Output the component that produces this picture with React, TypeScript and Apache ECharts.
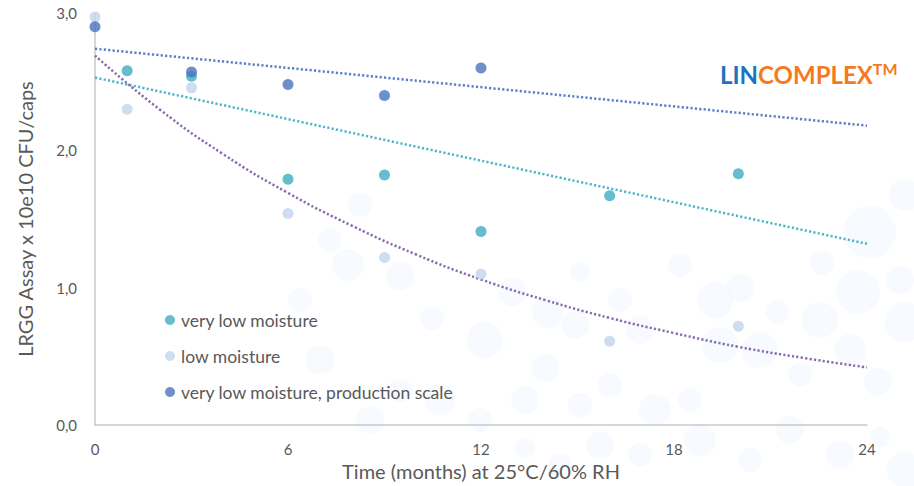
import React, { useEffect, useRef } from "react";
import * as echarts from "echarts";

const xTicks = [0, 6, 12, 18, 24];
const veryLowX = [1, 3, 6, 9, 12, 16, 20];
const veryLowY = [2.58, 2.54, 1.79, 1.82, 1.41, 1.67, 1.83];
const lowX = [0, 1, 3, 6, 9, 12, 16, 20];
const lowY = [2.97, 2.3, 2.455, 1.54, 1.22, 1.1, 0.61, 0.72];
const prodX = [0, 3, 6, 9, 12];
const prodY = [2.9, 2.57, 2.48, 2.4, 2.6];
const trendProdX = [0, 24];
const trendProdY = [2.74, 2.18];
const trendVeryLowX = [0, 24];
const trendVeryLowY = [2.53, 1.32];
const trendLowX = [0, 2, 4, 6, 8, 10, 12, 14, 16, 18, 20, 22, 24];
const trendLowY = [2.69, 2.3, 1.97, 1.69, 1.45, 1.24, 1.06, 0.91, 0.78, 0.67, 0.57, 0.49, 0.42];

const names = ["very low moisture", "low moisture", "very low moisture, production scale"];

const bubbles: [number, number, number][] = [
  [905, 195, 16], [870, 232, 26], [900, 280, 14], [822, 263, 12], [858, 292, 22],
  [905, 322, 20], [820, 320, 18], [777, 312, 12], [740, 288, 14], [715, 300, 18],
  [640, 330, 14], [575, 325, 14], [548, 312, 16], [512, 292, 14], [485, 340, 18],
  [432, 318, 12], [400, 276, 14], [348, 265, 16], [360, 205, 12], [330, 240, 12],
  [878, 382, 14], [850, 350, 16], [800, 375, 12], [760, 350, 18], [720, 345, 18],
  [690, 400, 12], [655, 410, 16], [610, 385, 12], [580, 405, 12], [545, 368, 14],
  [525, 400, 14], [480, 420, 12], [440, 400, 16], [400, 390, 12], [370, 420, 14],
  [880, 437, 10], [840, 455, 14], [790, 430, 14], [750, 460, 12], [700, 440, 16],
  [640, 455, 12], [600, 445, 14], [560, 465, 12], [525, 448, 10], [905, 470, 18],
  [320, 360, 14], [300, 300, 12], [620, 300, 12], [580, 272, 10], [680, 265, 12],
];

export default function App() {
  const ref = useRef<HTMLDivElement>(null);
  useEffect(() => {
    if (!ref.current) return;
    const chart = echarts.init(ref.current, undefined, { renderer: "svg" });
    const zip = (xs: number[], ys: number[]) => xs.map((x, i) => [x, ys[i]]);
    const font = "Lato, 'Open Sans', sans-serif";
    const trend = (name: string, data: number[][], color: string, smooth: boolean) => ({
      name,
      type: "line",
      data,
      smooth,
      showSymbol: false,
      symbol: "none",
      silent: true,
      z: 1,
      lineStyle: { color, width: 2.5, type: [2.2, 2.2], cap: "butt" },
    });
    chart.setOption({
      animation: false,
      backgroundColor: "#ffffff",
      textStyle: { fontFamily: font },
      graphic: [
        ...bubbles.map(([cx, cy, r]) => ({
          type: "circle",
          shape: { cx, cy, r },
          style: { fill: "#f2f8fd", opacity: 0.65 },
          z: -10,
          silent: true,
        })),
        {
          type: "text",
          left: 720,
          top: 60,
          z: 10,
          style: {
            text: "{a|LIN}{b|COMPLEX}{c|TM}",
            rich: {
              a: { fill: "#1a74c0", fontSize: 24, fontWeight: "bold", fontFamily: font },
              b: { fill: "#f57a1f", fontSize: 24, fontWeight: "bold", fontFamily: font },
              c: { fill: "#f57a1f", fontSize: 16, fontWeight: "bold", fontFamily: font, verticalAlign: "top", padding: [0, 0, 12, 0] },
            },
          },
        },
      ],
      grid: { left: 95, right: 47, top: 13, bottom: 54, containLabel: false },
      legend: {
        data: names,
        orient: "vertical",
        left: 160,
        top: 306,
        itemGap: 18,
        itemWidth: 12,
        itemHeight: 10,
        textStyle: { color: "#595959", fontSize: 17.5, fontFamily: font },
      },
      xAxis: {
        type: "value",
        min: 0,
        max: 24,
        interval: 6,
        name: "Time (months) at 25°C/60% RH",
        nameLocation: "middle",
        nameGap: 32,
        nameTextStyle: { color: "#595959", fontSize: 20, fontFamily: font },
        axisLine: { show: true, lineStyle: { color: "#c8c8c8", width: 1.5 } },
        axisTick: { show: false },
        splitLine: { show: false },
        axisLabel: {
          color: "#595959",
          fontSize: 15,
          margin: 16,
          formatter: (v: number) => (xTicks.includes(v) ? String(v) : ""),
        },
      },
      yAxis: {
        type: "value",
        min: 0,
        max: 3,
        interval: 1,
        name: "LRGG Assay x 10e10 CFU/caps",
        nameLocation: "middle",
        nameGap: 60,
        nameTextStyle: { color: "#595959", fontSize: 20, fontFamily: font },
        axisLine: { show: true, lineStyle: { color: "#c8c8c8", width: 1.5 } },
        axisTick: { show: false },
        splitLine: { show: false },
        axisLabel: {
          color: "#595959",
          fontSize: 15,
          margin: 18,
          formatter: (v: number) => v.toFixed(1).replace(".", ","),
        },
      },
      series: [
        trend("trend prod", zip(trendProdX, trendProdY), "#5b7fc8", false),
        trend("trend very low", zip(trendVeryLowX, trendVeryLowY), "#4fb6cc", false),
        trend("trend low", zip(trendLowX, trendLowY), "#8a6bb0", true),
        {
          name: names[0],
          type: "scatter",
          data: zip(veryLowX, veryLowY),
          symbolSize: 11,
          itemStyle: { color: "#3facc1" },
          z: 3,
        },
        {
          name: names[1],
          type: "scatter",
          data: zip(lowX, lowY),
          symbolSize: 11,
          itemStyle: { color: "#c3d5ee" },
          z: 3,
        },
        {
          name: names[2],
          type: "scatter",
          data: zip(prodX, prodY),
          symbolSize: 11,
          itemStyle: { color: "#4a73bb" },
          z: 3,
        },
      ],
    });
    return () => chart.dispose();
  }, []);
  return <div ref={ref} style={{ width: 914, height: 486, position: "absolute", left: 0, top: 0 }} />;
}
